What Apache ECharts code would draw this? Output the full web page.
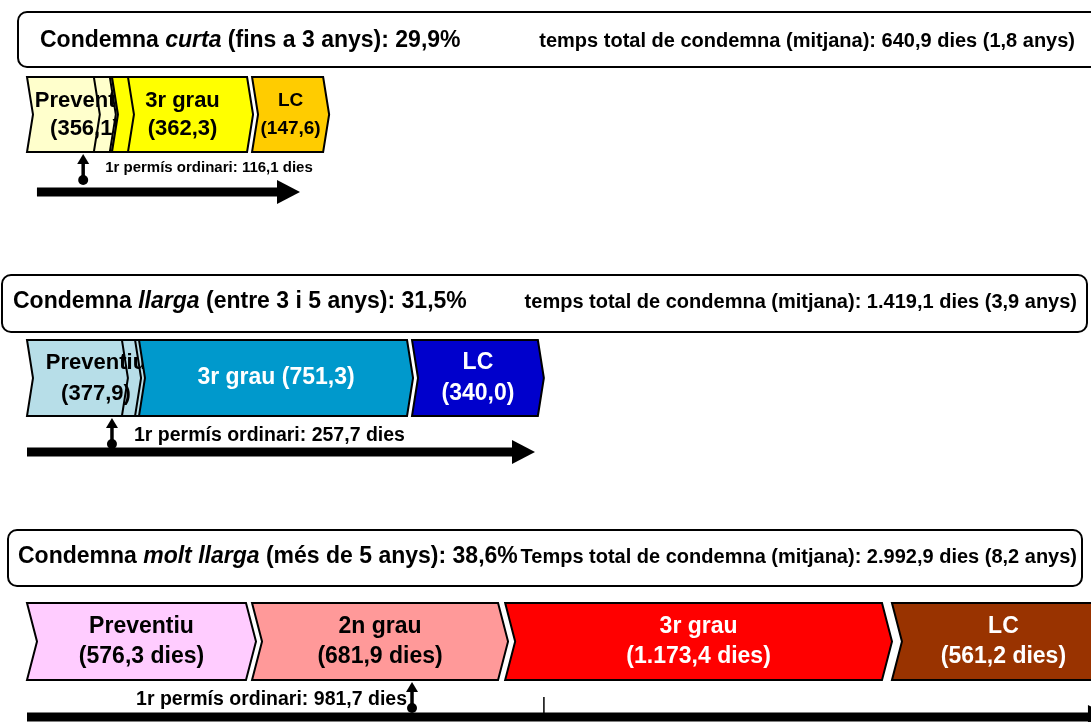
<!DOCTYPE html>
<html>
<head>
<meta charset="utf-8">
<script src="https://cdn.jsdelivr.net/npm/echarts@6/dist/echarts.min.js"></script>
<style>
html, body { margin: 0; padding: 0; background: #fff; }
#main { width: 1091px; height: 722px; }
</style>
</head>
<body>
<div id="main"></div>
<script>
var FONT = '"Liberation Sans", Arial, sans-serif';

// tipus de condemna, pes i temps total (mitjana)
var groupNames = ['curta', 'llarga', 'molt llarga'];
var groupRanges = ['fins a 3 anys', 'entre 3 i 5 anys', 'més de 5 anys'];
var groupShare = [29.9, 31.5, 38.6];
var totalDays = [640.9, 1419.1, 2992.9];
var totalYears = [1.8, 3.9, 8.2];
var permisDays = [116.1, 257.7, 981.7];

// etapes de cada tipus: nom, dies (mitjana) i tram sobre l'eix de temps
var curtaStages = ['Preventiu', '', '3r grau', '', 'LC'];
var curtaDays = [356.1, null, 362.3, null, 147.6];
var curtaFrom = [0, 188, 239, 239, 633];
var curtaTo = [309, 233, 619, 284, 833];

var llargaStages = ['Preventiu', '', '3r grau', 'LC'];
var llargaDays = [377.9, null, 751.3, 340.0];
var llargaFrom = [0, 267, 315, 1083];
var llargaTo = [371, 304, 1069, 1437];

var moltStages = ['Preventiu', '2n grau', '3r grau', 'LC'];
var moltDays = [576.3, 681.9, 1173.4, 561.2];
var moltFrom = [0, 633, 1345, 2433];
var moltTo = [616, 1325, 2405, 3032];

// eix de temps, punt del 1r permís i marca extra
var axisFrom = [28, 0, 0];
var axisTo = [768, 1429, 3049];
var permisAt = [158, 239, 1083];
var moltTicks = [1454];

var AXIS_MAX = 2992.9;

var styles = [{
    top: 77, height: 75, notch: 6, lineHeight: 28, unit: '',
    fill: ['#FFFFCC', '#FFFFCC', '#FFFF00', '#FFFF00', '#FFCC00'],
    ink: ['#000', '#000', '#000', '#000', '#000'],
    size: [22, 22, 22, 22, 19],
    oneLine: [false, false, false, false, false],
    axisGap: 40,
    permis: { size: 15, align: 'left', dx: 22, dy: 16 }
}, {
    top: 340, height: 76, notch: 6, lineHeight: 31, unit: '',
    fill: ['#B7DEE8', '#B7DEE8', '#0099CC', '#0000CC'],
    ink: ['#000', '#000', '#fff', '#fff'],
    size: [22, 22, 23, 23],
    oneLine: [false, false, true, false],
    axisGap: 36,
    permis: { size: 19.5, align: 'left', dx: 22, dy: 20 }
}, {
    top: 603, height: 77, notch: 10, lineHeight: 30, unit: ' dies',
    fill: ['#FFCCFF', '#FF9999', '#FF0000', '#993300'],
    ink: ['#000', '#000', '#fff', '#fff'],
    size: [23, 23, 23, 23],
    oneLine: [false, false, false, false],
    axisGap: 37,
    permis: { size: 19.5, align: 'right', dx: -5, dy: 20 }
}];

var fmt = function (v) {
    var p = v.toFixed(1).split('.');
    return p[0].replace(/\B(?=(\d{3})+(?!\d))/g, '.') + ',' + p[1];
};

var band = function (api, x) {
    var c = api.coord([x, 0]);
    var h = api.size([0, 1])[1];
    return { x: c[0], cy: c[1], top: c[1] - h / 2, bot: c[1] + h / 2 };
};

var stageSeries = function (gi, names, days, from, to) {
    var st = styles[gi];
    return {
        type: 'custom',
        xAxisIndex: gi,
        yAxisIndex: gi,
        clip: false,
        encode: { x: [0, 1], y: 2 },
        data: from.map(function (f, i) { return [f, to[i], 0, i]; }),
        renderItem: function (params, api) {
            var i = api.value(3);
            var a = band(api, api.value(0));
            var b = band(api, api.value(1));
            var n = st.notch;
            var kids = [{
                type: 'polygon',
                z2: i * 2,
                shape: { points: [[a.x, a.top], [b.x, a.top], [b.x + n, a.cy], [b.x, a.bot], [a.x, a.bot], [a.x + n, a.cy]] },
                style: { fill: st.fill[i], stroke: '#000', lineWidth: 2, lineJoin: 'miter' }
            }];
            if (days[i] != null) {
                var v = '(' + fmt(days[i]) + st.unit + ')';
                kids.push({
                    type: 'text',
                    z2: i * 2 + 3,
                    style: {
                        text: st.oneLine[i] ? names[i] + ' ' + v : names[i] + '\n' + v,
                        x: (a.x + b.x + n) / 2,
                        y: a.cy,
                        align: 'center',
                        verticalAlign: 'middle',
                        fill: st.ink[i],
                        fontSize: st.size[i],
                        fontWeight: 'bold',
                        fontFamily: FONT,
                        lineHeight: st.lineHeight
                    }
                });
            }
            return { type: 'group', children: kids };
        }
    };
};

var axisSeries = function (gi) {
    var st = styles[gi];
    return {
        type: 'custom',
        xAxisIndex: gi,
        yAxisIndex: gi,
        clip: false,
        encode: { x: [0, 1], y: 2 },
        data: [[axisFrom[gi], axisTo[gi], 0]],
        renderItem: function (params, api) {
            var a = band(api, api.value(0));
            var b = band(api, api.value(1));
            var y = a.bot + st.axisGap;
            return {
                type: 'group',
                children: [{
                    type: 'rect',
                    shape: { x: a.x, y: y - 4.5, width: b.x - 22 - a.x, height: 9 },
                    style: { fill: '#000' }
                }, {
                    type: 'polygon',
                    shape: { points: [[b.x - 23, y - 12], [b.x, y], [b.x - 23, y + 12]] },
                    style: { fill: '#000' }
                }]
            };
        }
    };
};

var tickSeries = function (gi, ticks) {
    var st = styles[gi];
    return {
        type: 'custom',
        xAxisIndex: gi,
        yAxisIndex: gi,
        clip: false,
        encode: { x: 0, y: 1 },
        data: ticks.map(function (t) { return [t, 0]; }),
        renderItem: function (params, api) {
            var a = band(api, api.value(0));
            var y = a.bot + st.axisGap;
            return {
                type: 'line',
                shape: { x1: a.x, y1: y - 20, x2: a.x, y2: y },
                style: { stroke: '#000', lineWidth: 1.5 }
            };
        }
    };
};

var permisSeries = function (gi) {
    var st = styles[gi];
    var p = st.permis;
    return {
        type: 'custom',
        xAxisIndex: gi,
        yAxisIndex: gi,
        clip: false,
        encode: { x: 0, y: 1 },
        data: [[permisAt[gi], 0, permisDays[gi]]],
        renderItem: function (params, api) {
            var a = band(api, api.value(0));
            var tip = a.bot + 2;
            var dot = a.bot + 28;
            return {
                type: 'group',
                children: [{
                    type: 'line',
                    shape: { x1: a.x, y1: tip + 6, x2: a.x, y2: dot },
                    style: { stroke: '#000', lineWidth: 3.5 }
                }, {
                    type: 'polygon',
                    shape: { points: [[a.x - 6, tip + 10], [a.x, tip], [a.x + 6, tip + 10]] },
                    style: { fill: '#000' }
                }, {
                    type: 'circle',
                    shape: { cx: a.x, cy: dot, r: 5 },
                    style: { fill: '#000' }
                }, {
                    type: 'text',
                    style: {
                        text: '1r permís ordinari: ' + fmt(api.value(2)) + ' dies',
                        x: a.x + p.dx,
                        y: a.bot + p.dy,
                        align: p.align,
                        verticalAlign: 'middle',
                        fill: '#000',
                        fontSize: p.size,
                        fontWeight: 'bold',
                        fontFamily: FONT
                    }
                }]
            };
        }
    };
};

// caixes de capçalera
var boxes = [
    { x: 18, y: 12, w: 1090, h: 55, tx: 40, ty: 41, rx: 1075 },
    { x: 2, y: 275, w: 1085, h: 57, tx: 13, ty: 302, rx: 1077 },
    { x: 8, y: 530, w: 1074, h: 56, tx: 18, ty: 557, rx: 1077 }
];
var titleRich = {
    b: { fontSize: 23, fontWeight: 'bold', fontFamily: FONT, fill: '#000' },
    i: { fontSize: 23, fontWeight: 'bold', fontStyle: 'italic', fontFamily: FONT, fill: '#000' }
};
var graphic = [];
boxes.forEach(function (bx, gi) {
    graphic.push({
        type: 'rect',
        shape: { x: bx.x, y: bx.y, width: bx.w, height: bx.h, r: 9 },
        style: { fill: '#fff', stroke: '#000', lineWidth: 2 }
    });
    graphic.push({
        type: 'text',
        x: bx.tx,
        y: bx.ty,
        style: {
            text: '{b|Condemna }{i|' + groupNames[gi] + '}{b| (' + groupRanges[gi] + '): ' + fmt(groupShare[gi]) + '%}',
            rich: titleRich,
            verticalAlign: 'middle'
        }
    });
    graphic.push({
        type: 'text',
        x: bx.rx,
        y: bx.ty,
        style: {
            text: (gi === 2 ? 'Temps' : 'temps') + ' total de condemna (mitjana): ' + fmt(totalDays[gi]) + ' dies (' + fmt(totalYears[gi]) + ' anys)',
            align: 'right',
            verticalAlign: 'middle',
            fill: '#000',
            fontSize: 20,
            fontWeight: 'bold',
            fontFamily: FONT
        }
    });
});

var grids = styles.map(function (st) {
    return { left: 27, right: 0, top: st.top, height: st.height };
});
var xAxes = styles.map(function (st, gi) {
    return { type: 'value', gridIndex: gi, min: 0, max: AXIS_MAX, show: false };
});
var yAxes = styles.map(function (st, gi) {
    return { type: 'category', gridIndex: gi, data: [''], show: false };
});

var myChart = echarts.init(document.getElementById('main'));
var option = {
    animation: false,
    backgroundColor: '#fff',
    grid: grids,
    xAxis: xAxes,
    yAxis: yAxes,
    graphic: graphic,
    series: [
        stageSeries(0, curtaStages, curtaDays, curtaFrom, curtaTo),
        stageSeries(1, llargaStages, llargaDays, llargaFrom, llargaTo),
        stageSeries(2, moltStages, moltDays, moltFrom, moltTo),
        axisSeries(0),
        axisSeries(1),
        axisSeries(2),
        tickSeries(2, moltTicks),
        permisSeries(0),
        permisSeries(1),
        permisSeries(2)
    ]
};
myChart.setOption(option);
</script>
</body>
</html>
